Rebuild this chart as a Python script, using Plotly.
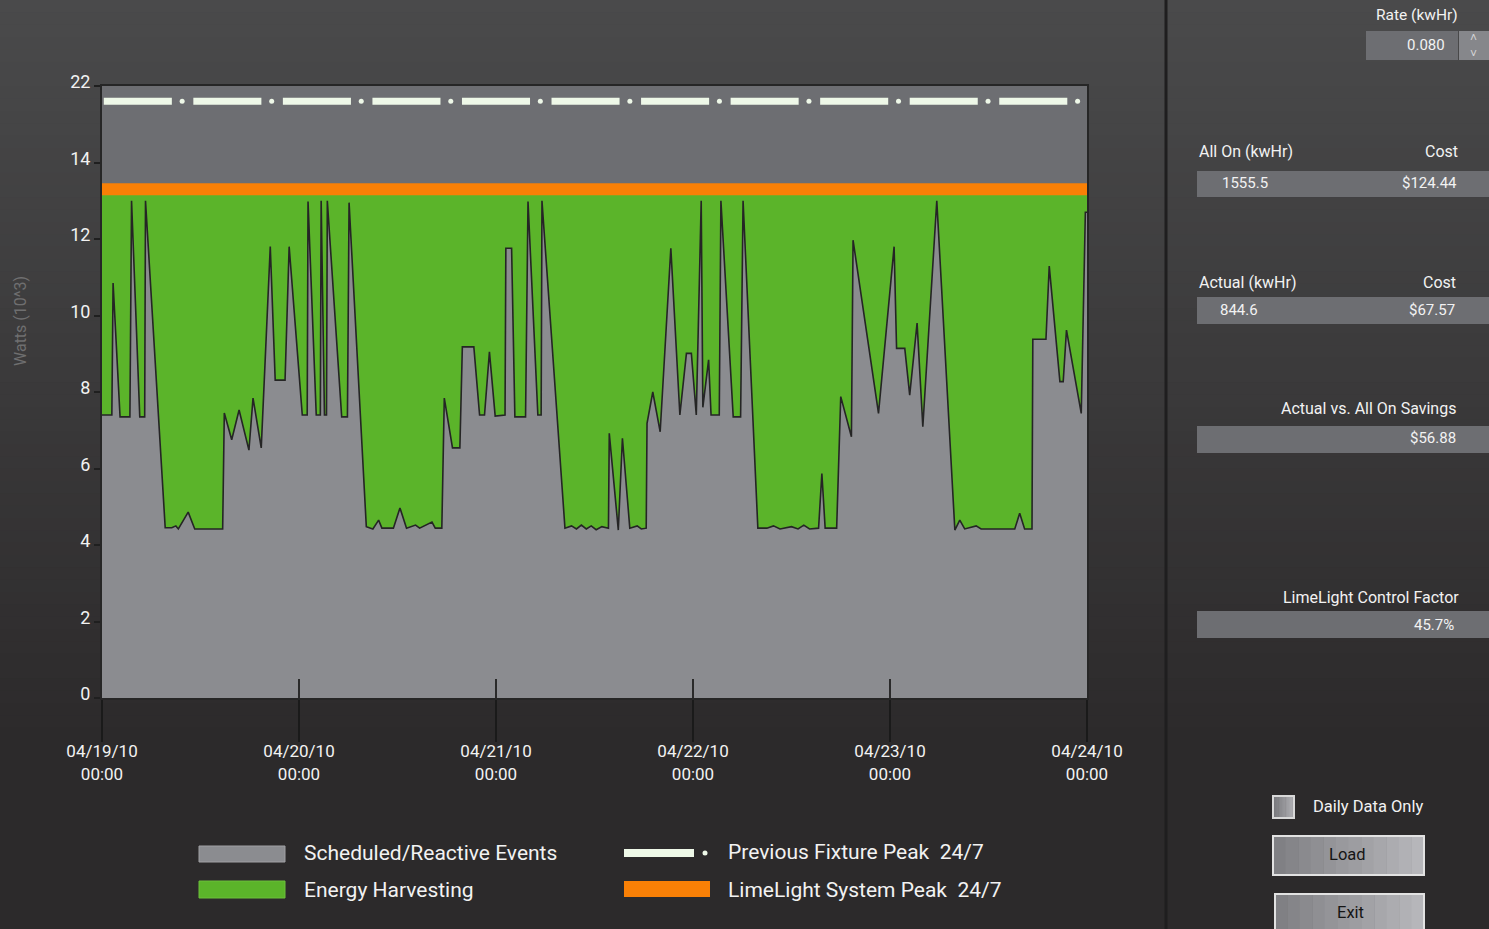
import pandas as pd
import plotly.graph_objects as go

# ---------------- data ----------------
hours = [
    0.0, 1.2, 1.35, 2.2, 3.4, 3.6, 4.6, 5.2, 5.3, 7.7, 8.5, 9.0, 9.3, 10.5, 11.3, 14.7, 14.9, 15.8, 16.7,
    17.9, 18.4, 19.4, 20.5, 21.1, 22.3, 22.8, 24.4,
    25.0, 25.1, 26.1, 26.6, 26.7, 27.1, 27.35, 27.45, 29.2, 29.9, 30.1, 32.2, 33.0, 33.7, 34.1, 35.5, 36.3,
    37.1, 38.2, 38.7, 40.2, 40.6, 41.4, 41.7, 42.7, 43.6, 43.9, 45.3, 46.0, 46.6, 47.2, 47.9,
    49.1, 49.2, 49.9, 50.3, 51.6, 51.9, 53.1, 53.5, 53.6, 56.4, 57.2, 57.8, 58.4, 59.0, 59.6, 60.2, 60.9,
    61.7, 61.8, 62.9, 63.4, 64.3, 65.2, 65.7, 66.3, 66.4, 67.1, 68.0, 69.3, 70.4, 71.2, 71.8, 72.4,
    73.0, 73.2, 73.9, 74.2, 75.2, 75.4, 76.9, 77.8, 78.1, 79.9, 81.0, 81.8, 82.6, 84.0, 84.8, 85.5, 86.2,
    87.3, 87.7, 88.1, 89.5, 90.0, 91.3, 91.5, 94.6, 96.5, 96.8, 97.8, 98.4, 99.3, 100.0, 101.7, 103.9,
    104.5, 105.1, 106.5, 107.1, 111.2, 111.8, 112.4, 113.3, 113.4, 115.0, 115.4, 116.7, 117.1, 117.5,
    119.3, 119.8, 120.0,
]
watts = [
    7.4, 7.4, 10.85, 7.35, 7.35, 13.0, 7.35, 7.35, 13.0, 4.45, 4.45, 4.5, 4.42, 4.86, 4.42, 4.42, 7.45, 6.75, 7.53,
    6.48, 7.84, 6.54, 11.8, 8.31, 8.31, 11.8, 7.4,
    7.4, 12.98, 7.4, 7.4, 13.0, 7.4, 7.4, 13.0, 7.35, 7.35, 12.95, 4.48, 4.42, 4.65, 4.44, 4.44, 4.97,
    4.44, 4.52, 4.44, 4.6, 4.44, 4.44, 7.84, 6.54, 6.54, 9.18, 9.18, 7.4, 7.4, 9.05, 7.37,
    7.4, 11.76, 11.76, 7.35, 7.35, 12.98, 7.4, 7.4, 13.0, 4.44, 4.5, 4.42, 4.52, 4.42, 4.5, 4.4, 4.48,
    4.44, 6.92, 4.39, 6.79, 4.44, 4.5, 4.42, 4.44, 7.18, 8.0, 6.96, 11.76, 7.4, 9.01, 9.01, 7.4,
    13.0, 7.6, 8.84, 7.4, 7.4, 13.0, 7.35, 7.35, 13.0, 4.44, 4.44, 4.5, 4.42, 4.48, 4.42, 4.52, 4.42,
    4.44, 5.87, 4.44, 4.44, 7.88, 6.83, 11.97, 7.44, 11.8, 9.14, 9.14, 7.92, 9.8, 7.09, 13.0, 4.39,
    4.65, 4.42, 4.5, 4.42, 4.42, 4.83, 4.42, 4.42, 9.38, 9.38, 11.29, 8.27, 8.27, 9.62,
    7.44, 12.7, 12.7,
]
system_peak = 13.3      # LimeLight System Peak 24/7 (kW)
previous_peak = 20.4    # Previous Fixture Peak 24/7 (kW)
y_tick_values = [0, 2, 4, 6, 8, 10, 12, 14, 22]
day_labels = ["04/19/10", "04/20/10", "04/21/10", "04/22/10", "04/23/10", "04/24/10"]
legend_labels = ["Scheduled/Reactive Events", "Energy Harvesting",
                 "Previous Fixture Peak  24/7", "LimeLight System Peak  24/7"]
rate_value = "0.080"
all_on_kwh, all_on_cost = "1555.5", "$124.44"
actual_kwh, actual_cost = "844.6", "$67.57"
savings = "$56.88"
control_factor = "45.7%"

# ---------------- styling ----------------
GRAY = "#8b8c90"
GREEN = "#5bb42a"
ORANGE = "#f98006"
WHITE_LINE = "#eef8e8"
PLOT_BG = "#6d6e72"
FONT = "Roboto, 'Open Sans', sans-serif"
W, H = 1489, 929
L, R, T, B = 102, 1087, 86, 698


def disp(v):
    # axis is compressed above 14 (14 -> 22 spans two display units)
    return v if v <= 14 else 14 + (v - 14) / 4.0


def px(x):
    return (x - L) / (R - L)


def py(y):
    return (B - y) / (B - T)


start = pd.Timestamp("2010-04-19")
end = start + pd.Timedelta(days=len(day_labels) - 1)
times = start + pd.to_timedelta(hours, unit="h")
tick_dates = pd.date_range(start, periods=len(day_labels), freq="D")

fig = go.Figure()
fig.add_trace(go.Scatter(x=times, y=watts, mode="lines", line=dict(width=0, color=GRAY),
                         fill="tozeroy", fillcolor=GRAY, hoverinfo="skip", showlegend=False))
fig.add_trace(go.Scatter(x=times, y=[disp(system_peak)] * len(times), mode="lines",
                         line=dict(width=0, color=GREEN), fill="tonexty", fillcolor=GREEN,
                         hoverinfo="skip", showlegend=False))
fig.add_trace(go.Scatter(x=times, y=watts, mode="lines", line=dict(color="#252525", width=1.6),
                         showlegend=False))
fig.add_trace(go.Scatter(x=[start, end], y=[disp(system_peak)] * 2, mode="lines",
                         line=dict(color=ORANGE, width=12), showlegend=False))

# previous fixture peak: long dash + dot pattern
n_per = 11
period = (end - start) / n_per
dx, dy, ox = [], [], []
for k in range(n_per):
    dx += [start + period * (k + 0.02), start + period * (k + 0.78), None]
    dy += [disp(previous_peak), disp(previous_peak), None]
    ox.append(start + period * (k + 0.895))
fig.add_trace(go.Scatter(x=dx, y=dy, mode="lines", line=dict(color=WHITE_LINE, width=7),
                         xaxis="x2", showlegend=False, connectgaps=False))
fig.add_trace(go.Scatter(x=ox, y=[disp(previous_peak)] * len(ox), mode="markers",
                         marker=dict(color=WHITE_LINE, size=5), xaxis="x2", showlegend=False))

shapes = []
# background gradient
N = 60
c0, c1 = (74, 74, 75), (44, 42, 43)
for i in range(N):
    t = i / (N - 1)
    c = tuple(round(a + (b - a) * t) for a, b in zip(c0, c1))
    y0 = i * 740 / N
    y1 = (i + 1) * 740 / N + 1
    shapes.append(dict(type="rect", xref="paper", yref="paper", x0=px(0), x1=px(W),
                       y0=py(y1), y1=py(y0), fillcolor="rgb(%d,%d,%d)" % c,
                       line=dict(width=0), layer="below"))
shapes.append(dict(type="rect", xref="paper", yref="paper", x0=0, x1=1, y0=0, y1=1,
                   fillcolor=PLOT_BG, line=dict(width=0), layer="below"))
# sidebar divider
shapes.append(dict(type="line", xref="paper", yref="paper", x0=px(1166), x1=px(1166),
                   y0=py(0), y1=py(W), line=dict(color="#1f1e1f", width=3)))


def box(x0, y0, x1, y1, fill, line=None):
    shapes.append(dict(type="rect", xref="paper", yref="paper", x0=px(x0), x1=px(x1),
                       y0=py(y1), y1=py(y0), fillcolor=fill,
                       line=line if line else dict(width=0)))


def grad_box(x0, y0, x1, y1, ca, cb, border):
    n = 12
    for i in range(n):
        t = i / (n - 1)
        c = tuple(round(a + (b - a) * t) for a, b in zip(ca, cb))
        xa = x0 + (x1 - x0) * i / n
        xb = x0 + (x1 - x0) * (i + 1) / n + 0.5
        box(xa, y0, xb, y1, "rgb(%d,%d,%d)" % c)
    shapes.append(dict(type="rect", xref="paper", yref="paper", x0=px(x0), x1=px(x1),
                       y0=py(y1), y1=py(y0), fillcolor="rgba(0,0,0,0)",
                       line=dict(color=border, width=2)))


# sidebar boxes
box(1366, 31, 1458, 60, "#6d6e72")
box(1459, 31, 1489, 60, "#86878b")
box(1197, 171, 1489, 197, "#6d6e72")
box(1197, 297, 1489, 324, "#6d6e72")
box(1197, 426, 1489, 453, "#6d6e72")
box(1197, 611, 1489, 638, "#6d6e72")
grad_box(1273, 796, 1294, 818, (120, 120, 124), (175, 175, 179), "#d8d8d8")
grad_box(1273, 836, 1424, 875, (128, 128, 132), (182, 182, 186), "#e2e2e2")
grad_box(1275, 894, 1424, 940, (128, 128, 132), (182, 182, 186), "#e2e2e2")

# legend swatches
box(199, 846, 285, 862, GRAY, dict(color="#a0a0a4", width=1))
box(199, 881, 285, 898, GREEN, dict(color="#6cc03a", width=1))
box(624, 849, 694, 857, WHITE_LINE)
box(624, 881, 710, 897, ORANGE)
shapes.append(dict(type="circle", xref="paper", yref="paper", x0=px(702.5), x1=px(707.5),
                   y0=py(855.5), y1=py(850.5), fillcolor=WHITE_LINE, line=dict(width=0)))

annotations = []


def txt(x, y, s, size=14, anchor="left", color="#f2f2f2", angle=0):
    annotations.append(dict(text=s, x=px(x), y=py(y), xref="paper", yref="paper",
                            xanchor=anchor, yanchor="middle", showarrow=False,
                            textangle=angle, font=dict(family=FONT, size=size, color=color)))


txt(20, 321, "Watts (10^3)", 16, "center", "#6f6f70", -90)
txt(302, 853, legend_labels[0], 21)
txt(302, 890, legend_labels[1], 21)
txt(726, 852, legend_labels[2], 21)
txt(726, 890, legend_labels[3], 21)

txt(1460, 15, "Rate (kwHr)", 15.5, "right")
txt(1447, 45, rate_value, 15, "right")
txt(1473, 46, "˄<br>˅", 12, "center", "#d4d4d6")
txt(1197, 152, "All On (kwHr)", 16)
txt(1460, 152, "Cost", 16, "right")
txt(1220, 183, all_on_kwh, 15)
txt(1459, 183, all_on_cost, 15, "right")
txt(1197, 282, "Actual (kwHr)", 16)
txt(1458, 282, "Cost", 16, "right")
txt(1218, 310, actual_kwh, 15)
txt(1457, 310, actual_cost, 15, "right")
txt(1458, 408, "Actual vs. All On Savings", 16, "right")
txt(1458, 438, savings, 15, "right")
txt(1461, 597, "LimeLight Control Factor", 16, "right")
txt(1456, 625, control_factor, 15, "right")
txt(1311, 806, "Daily Data Only", 16.5)
txt(1347, 854, "Load", 16.5, "center", "#151515")
txt(1350, 912, "Exit", 16.5, "center", "#151515")

fig.update_layout(
    width=W, height=H, autosize=False,
    margin=dict(l=L, r=W - R, t=T, b=H - B, pad=0),
    paper_bgcolor="#2c2a2b", plot_bgcolor=PLOT_BG,
    font=dict(family=FONT, color="#f2f2f2"),
    showlegend=False,
    xaxis=dict(type="date", range=[start, end], tickvals=tick_dates,
               ticktext=[d + "<br>00:00" for d in day_labels],
               ticks="outside", ticklen=42, tickwidth=2, tickcolor="#1a1a1a",
               showline=True, linecolor="#262626", linewidth=2, mirror=True,
               showgrid=False, zeroline=False, ticklabelstandoff=-5,
               tickfont=dict(family=FONT, size=17, color="#f2f2f2")),
    xaxis2=dict(type="date", range=[start, end], overlaying="x", matches="x", anchor="y",
                side="bottom", tickvals=tick_dates, ticks="inside", ticklen=19, tickwidth=2,
                tickcolor="#2a2a2a", showticklabels=False, showgrid=False, zeroline=False,
                showline=False),
    yaxis=dict(range=[0, disp(22)], tickvals=[disp(v) for v in y_tick_values],
               ticktext=[str(v) for v in y_tick_values],
               ticks="outside", ticklen=6, tickwidth=2, tickcolor="#1f1f1f",
               showline=True, linecolor="#262626", linewidth=2, mirror=True,
               showgrid=False, zeroline=False, ticklabelshift=-4,
               tickfont=dict(family=FONT, size=18, color="#f2f2f2")),
    shapes=shapes,
    annotations=annotations,
)

fig.write_html(
    "out.html",
    config={"displayModeBar": False},
    post_script="document.body.style.margin='0';document.body.style.overflow='hidden';",
)
